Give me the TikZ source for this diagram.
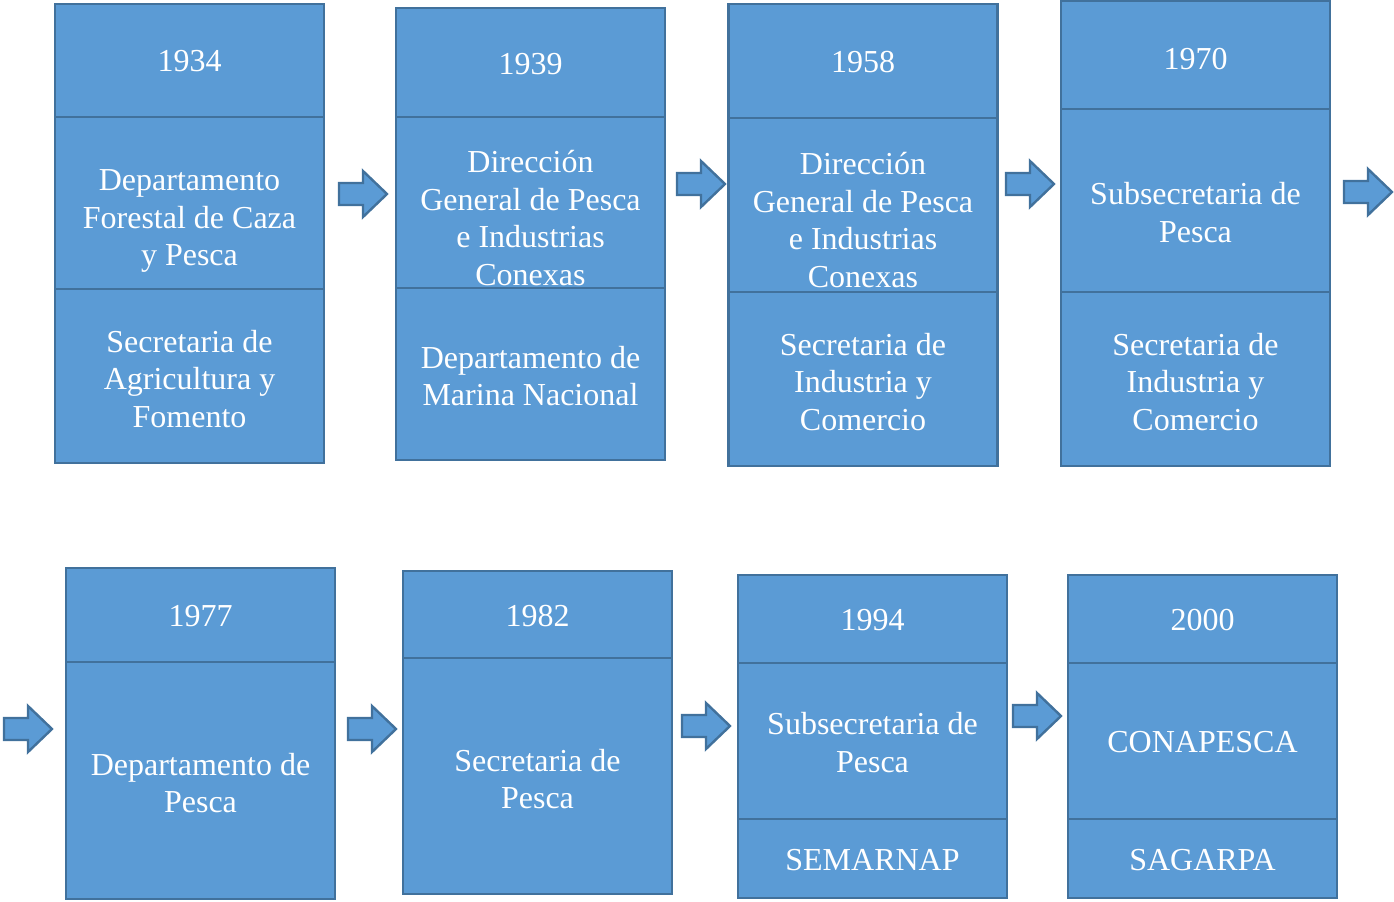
\documentclass[tikz,border=0pt]{standalone}
\usepackage{fontspec}
\setmainfont{Liberation Serif}
\usepackage{xcolor}
\definecolor{boxfill}{HTML}{5B9BD5}
\definecolor{boxline}{HTML}{41719C}

\tikzset{
  cell/.style={draw=boxline, fill=boxfill, line width=1.2pt, minimum width=134.5pt, inner sep=0pt},
  txt/.style={text=white, align=center, inner sep=0pt, font=\fontsize{16}{18.8}\selectfont},
  barrow/.style={draw=boxline, fill=boxfill, line width=1.2pt, line join=miter}
}

% block arrow: left end x, middle y
\newcommand{\blockarrow}[2]{%
  \draw[barrow] (#1,#2) ++(0,-11) -- ++(24,0) -- ++(0,-12) -- ++(24,23)
    -- ++(-24,23) -- ++(0,-12) -- ++(-24,0) -- cycle;}

\begin{document}
\begin{tikzpicture}[x=0.5pt,y=-0.5pt]
\useasboundingbox (0,0) rectangle (1394,901);

% row 1
         \node [cell, minimum height=56.5pt] (A1) at (189.5,60.5)  {};
         \node [cell, minimum height=86pt]   (A2) at (189.5,203)   {};
         \node [cell, minimum height=87pt]   (A3) at (189.5,376)   {};
         \node [txt] (a1) at (189.5,61)  {1934};
         \node [txt] (a2) at (189.5,221) {Departamento\\Forestal de Caza\\y Pesca};
         \node [txt] (a3) at (189.5,379) {Secretaria de\\Agricultura y\\Fomento};

         \node [cell, minimum height=54.5pt] (B1) at (530.5,62.5)  {};
         \node [cell, minimum height=85.5pt] (B2) at (530.5,202.5) {};
         \node [cell, minimum height=86pt]   (B3) at (530.5,374)   {};
         \node [txt] (b1) at (530.5,64)    {1939};
         \node [txt] (b2) at (530.5,218) {Dirección\\General de Pesca\\e Industrias\\Conexas};
         \node [txt] (b3) at (530.5,376) {Departamento de\\Marina Nacional};

         \node [cell, minimum height=57pt]   (C1) at (863,61)    {};
         \node [cell, minimum height=87pt]   (C2) at (863,205)   {};
         \node [cell, minimum height=87pt]   (C3) at (863,379)   {};
         \node [txt] (c1) at (863,62)    {1958};
         \node [txt] (c2) at (863,220) {Dirección\\General de Pesca\\e Industrias\\Conexas};
         \node [txt] (c3) at (863,382)   {Secretaria de\\Industria y\\Comercio};

         \node [cell, minimum height=54pt]   (D1) at (1195.5,55)  {};
         \node [cell, minimum height=91.5pt] (D2) at (1195.5,200.5) {};
         \node [cell, minimum height=87pt]   (D3) at (1195.5,379) {};
         \node [txt] (d1) at (1195.5,59)  {1970};
         \node [txt] (d2) at (1195.5,212.5) {Subsecretaria de\\Pesca};
         \node [txt] (d3) at (1195.5,382) {Secretaria de\\Industria y\\Comercio};

% row 2
         \node [cell, minimum height=47pt]    (E1) at (200.5,615)   {};
         \node [cell, minimum height=118.5pt] (E2) at (200.5,780.5) {};
         \node [txt] (e1) at (200.5,616)   {1977};
         \node [txt] (e2) at (200.5,783) {Departamento de\\Pesca};

         \node [cell, minimum height=43.5pt]  (F1) at (537.5,614.5) {};
         \node [cell, minimum height=118pt]   (F2) at (537.5,776)   {};
         \node [txt] (f1) at (537.5,616)   {1982};
         \node [txt] (f2) at (537.5,779) {Secretaria de\\Pesca};

         \node [cell, minimum height=44pt]    (G1) at (872.5,619)   {};
         \node [cell, minimum height=78pt]    (G2) at (872.5,741)   {};
         \node [cell, minimum height=39.5pt]  (G3) at (872.5,858.5) {};
         \node [txt] (g1) at (872.5,620) {1994};
         \node [txt] (g2) at (872.5,742.5) {Subsecretaria de\\Pesca};
         \node [txt] (g3) at (872.5,860) {SEMARNAP};

         \node [cell, minimum height=44pt]    (H1) at (1202.5,619)   {};
         \node [cell, minimum height=78pt]    (H2) at (1202.5,741)   {};
         \node [cell, minimum height=39.5pt]  (H3) at (1202.5,858.5) {};
         \node [txt] (h1) at (1202.5,620) {2000};
         \node [txt] (h2) at (1202.5,742) {CONAPESCA};
         \node [txt] (h3) at (1202.5,860) {SAGARPA};

% arrows
         \blockarrow{339}{194}
         \blockarrow{677}{184}
         \blockarrow{1006}{184}
         \blockarrow{1344}{192}
         \blockarrow{4}{729}
         \blockarrow{348}{729}
         \blockarrow{682}{726}
         \blockarrow{1013}{716}

\end{tikzpicture}
\end{document}
